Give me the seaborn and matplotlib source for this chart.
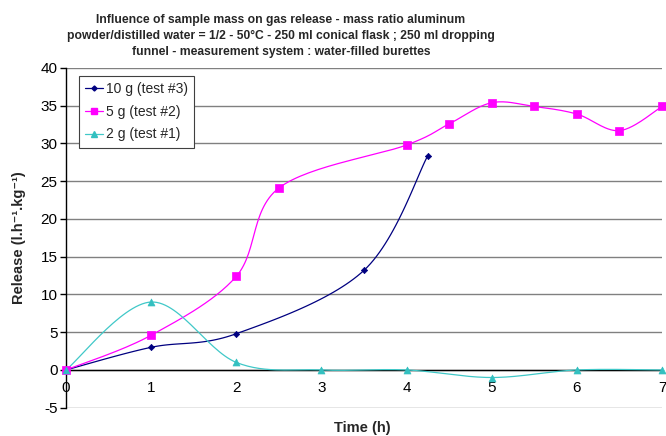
import numpy as np
import pandas as pd
import matplotlib
matplotlib.use("Agg")
import matplotlib.pyplot as plt
from matplotlib.lines import Line2D
import seaborn as sns

# ---- data ----
t_10g = [0, 1, 2, 3.5, 4.25]
r_10g = [0, 3.0, 4.8, 13.2, 28.4]
t_5g = [0, 1, 2, 2.5, 4, 4.5, 5, 5.5, 6, 6.5, 7]
r_5g = [0, 4.6, 12.4, 24.1, 29.8, 32.6, 35.4, 34.9, 33.9, 31.7, 34.9]
t_2g = [0, 1, 2, 3, 4, 5, 6, 7]
r_2g = [0, 9.0, 1.0, 0, 0, -1.0, 0, 0]
labels = ["10 g (test #3)", "5 g (test #2)", "2 g (test #1)"]
x_ticks = [0, 1, 2, 3, 4, 5, 6, 7]
y_ticks = [-5, 0, 5, 10, 15, 20, 25, 30, 35, 40]

title = ("Influence of sample mass on gas release - mass ratio aluminum\n"
         "powder/distilled water = 1/2 - 50°C - 250 ml conical flask ; 250 ml dropping\n"
         "funnel - measurement system : water-filled burettes")


def smooth(xs, ys, n=30):
    """Excel-like smoothed line (cubic Bezier, Catmull-Rom control points)."""
    P = np.column_stack([xs, ys]).astype(float)
    out = []
    m = len(P)
    for i in range(m - 1):
        p0 = P[i - 1] if i > 0 else P[i]
        p1 = P[i]
        p2 = P[i + 1]
        p3 = P[i + 2] if i + 2 < m else P[i + 1]
        c1 = p1 + (p2 - p0) / 6.0
        c2 = p2 - (p3 - p1) / 6.0
        tt = np.linspace(0, 1, n, endpoint=(i == m - 2))[:, None]
        seg = ((1 - tt) ** 3) * p1 + 3 * ((1 - tt) ** 2) * tt * c1 + 3 * (1 - tt) * tt ** 2 * c2 + tt ** 3 * p2
        out.append(seg)
    S = np.vstack(out)
    return S[:, 0], S[:, 1]


sns.set_theme(style="white")
plt.rcParams["font.family"] = ["Liberation Sans", "DejaVu Sans"]

fig = plt.figure(figsize=(6.66, 4.36), dpi=100)
ax = fig.add_axes([66 / 666, 1 - 407.7 / 436, (662 - 66) / 666, (407.7 - 68) / 436])

series = [
    (t_10g, r_10g, "#000080", "#000080", "D", 3.2),
    (t_5g, r_5g, "#FF00FF", "#FF00FF", "s", 5.5),
    (t_2g, r_2g, "#40C8C8", "#33C0C0", "^", 5.0),
]

handles = []
for (tx, ry, lc, mc, mk, ms), lab in zip(series, labels):
    sx, sy = smooth(tx, ry)
    sm = pd.DataFrame({"x": sx, "y": sy})
    sns.lineplot(data=sm, x="x", y="y", sort=False, estimator=None, ax=ax,
                 color=lc, linewidth=0.9, zorder=3)
    pts = pd.DataFrame({"x": tx, "y": ry})
    sns.scatterplot(data=pts, x="x", y="y", ax=ax, marker=mk, s=ms ** 2,
                    color=mc, edgecolor=mc, linewidth=0.5, zorder=4, clip_on=False)
    handles.append(Line2D([0], [0], color=lc, lw=0.9, marker=mk, markersize=ms * 0.8,
                          markerfacecolor=mc, markeredgecolor=mc, label=lab))

ax.set_xlim(0, 7)
ax.set_ylim(-5, 40)
ax.set_xticks(x_ticks)
ax.set_yticks(y_ticks)
ax.set_xticklabels([str(v) for v in x_ticks])
ax.set_yticklabels([str(v) for v in y_ticks])

ax.yaxis.grid(True, color="#808080", linewidth=1.0)
ax.xaxis.grid(False)
ax.set_axisbelow(True)

for s in ["top", "right"]:
    ax.spines[s].set_visible(False)
ax.spines["bottom"].set_position(("data", 0))
ax.spines["bottom"].set_color("black")
ax.spines["bottom"].set_linewidth(1.0)
ax.spines["left"].set_color("black")
ax.spines["left"].set_linewidth(1.0)

ax.tick_params(axis="y", which="both", left=True, direction="out", length=4,
               width=1, color="black", labelsize=11, pad=2, labelcolor="black")
ax.tick_params(axis="x", which="both", bottom=True, direction="out", length=0,
               labelsize=11, pad=8, labelcolor="black")

ax.set_xlabel("")
ax.set_ylabel("")
fig.text(362 / 666, 1 - 428 / 436, "Time (h)", ha="center", va="center",
         fontsize=10.5, fontweight="bold")
fig.text(19 / 666, 1 - 238 / 436, "Release (l.h⁻¹.kg⁻¹)", ha="center", va="center",
         rotation=90, fontsize=10.5, fontweight="bold")
fig.text(281 / 666, 1 - 36 / 436, title, ha="center", va="center",
         fontweight="bold", fontsize=8.7, linespacing=1.42)

leg = ax.legend(handles=handles, loc="upper left", bbox_to_anchor=(13 / 596, 1 - 8 / 339.7),
                frameon=True, fancybox=False, fontsize=10, handlelength=1.3,
                handletextpad=0.2, borderpad=0.45, labelspacing=0.62,
                borderaxespad=0, framealpha=1)
leg.get_frame().set_edgecolor("#404040")
leg.get_frame().set_linewidth(0.8)

fig.savefig("out.png", dpi=100, facecolor="white")
